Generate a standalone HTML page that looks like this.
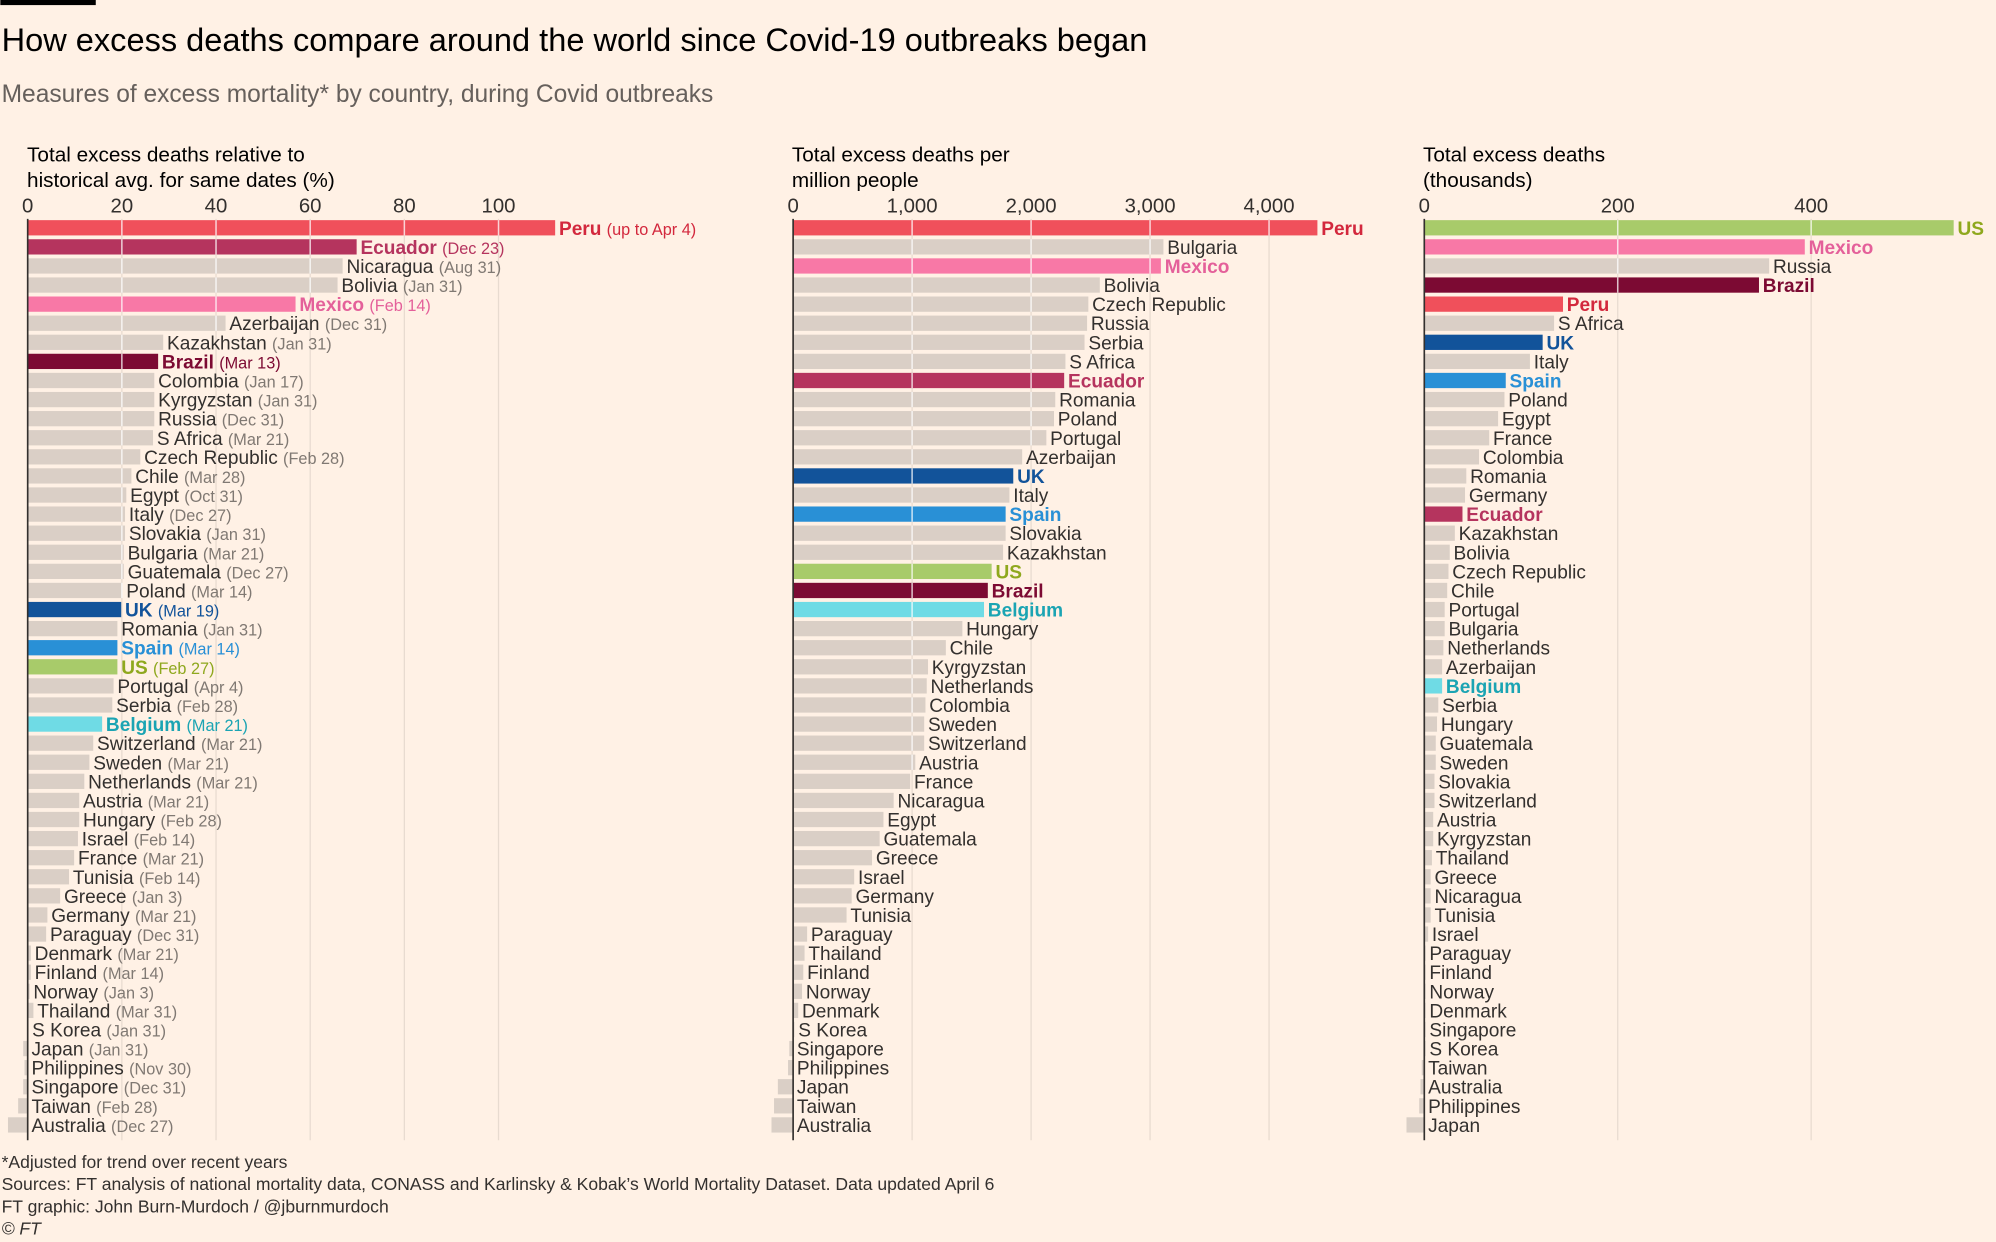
<!DOCTYPE html>
<html><head><meta charset="utf-8">
<style>
html,body{margin:0;padding:0;background:#fff1e5;}
svg{display:block;}
text{font-family:"Liberation Sans",sans-serif;}
</style></head>
<body>
<svg id="c" width="1996" height="1242" viewBox="0 0 1568 976" xmlns="http://www.w3.org/2000/svg">
<rect width="1568" height="976" fill="#fff1e5"/>
<rect x="0" y="0" width="75" height="4" fill="#000"/>
<text x="1" y="40" font-size="25.6" fill="#000">How excess deaths compare around the world since Covid-19 outbreaks began</text>
<text x="1" y="80" font-size="19.3" fill="#66605c">Measures of excess mortality* by country, during Covid outbreaks</text>
<g font-size="16.3" fill="#000">
<text x="21" y="127">Total excess deaths relative to</text>
<text x="21" y="147">historical avg. for same dates (%)</text>
<text x="622" y="127">Total excess deaths per</text>
<text x="622" y="147">million people</text>
<text x="1118" y="127">Total excess deaths</text>
<text x="1118" y="147">(thousands)</text>
</g>
<g id="g"></g>
<g font-size="13.8" fill="#33302e">
<text x="1" y="918">*Adjusted for trend over recent years</text>
<text x="1" y="935">Sources: FT analysis of national mortality data, CONASS and Karlinsky &amp; Kobak’s World Mortality Dataset. Data updated April 6</text>
<text x="1" y="953">FT graphic: John Burn-Murdoch / @jburnmurdoch</text>
<text x="1" y="970" font-style="italic">© FT</text>
</g>
</svg>
<script>
var C={Peru:['#f0505b','#d3283d'],Ecuador:['#b5345e','#b5345e'],Mexico:['#f878a6','#e4609a'],Brazil:['#7c0a33','#7c0a33'],UK:['#12539a','#12539a'],Spain:['#2990d6','#2990d6'],US:['#a8cb6a','#8fa81e'],Belgium:['#6fdbe5','#1ba4b3']};
var p1=[["Peru",436,"up to Apr 4"],["Ecuador",280,"Dec 23"],["Nicaragua",269,"Aug 31"],["Bolivia",265,"Jan 31"],["Mexico",232,"Feb 14"],["Azerbaijan",177,"Dec 31"],["Kazakhstan",128,"Jan 31"],["Brazil",124,"Mar 13"],["Colombia",121,"Jan 17"],["Kyrgyzstan",121,"Jan 31"],["Russia",121,"Dec 31"],["S Africa",120,"Mar 21"],["Czech Republic",110,"Feb 28"],["Chile",103,"Mar 28"],["Egypt",99,"Oct 31"],["Italy",98,"Dec 27"],["Slovakia",98,"Jan 31"],["Bulgaria",97,"Mar 21"],["Guatemala",97,"Dec 27"],["Poland",96,"Mar 14"],["UK",95,"Mar 19"],["Romania",92,"Jan 31"],["Spain",92,"Mar 14"],["US",92,"Feb 27"],["Portugal",89,"Apr 4"],["Serbia",88,"Feb 28"],["Belgium",80,"Mar 21"],["Switzerland",73,"Mar 21"],["Sweden",70,"Mar 21"],["Netherlands",66,"Mar 21"],["Austria",62,"Mar 21"],["Hungary",62,"Feb 28"],["Israel",61,"Feb 14"],["France",58,"Mar 21"],["Tunisia",54,"Feb 14"],["Greece",47,"Jan 3"],["Germany",37,"Mar 21"],["Paraguay",36,"Dec 31"],["Denmark",24,"Mar 21"],["Finland",24,"Mar 14"],["Norway",23,"Jan 3"],["Thailand",26,"Mar 31"],["S Korea",22,"Jan 31"],["Japan",18,"Jan 31"],["Philippines",19,"Nov 30"],["Singapore",18,"Dec 31"],["Taiwan",14,"Feb 28"],["Australia",6,"Dec 27"]];
var p2=[["Peru",1035],["Bulgaria",914],["Mexico",912],["Bolivia",864],["Czech Republic",855],["Russia",854],["Serbia",852],["S Africa",837],["Ecuador",836],["Romania",829],["Poland",828],["Portugal",822],["Azerbaijan",803],["UK",796],["Italy",793],["Spain",790],["Slovakia",790],["Kazakhstan",788],["US",779],["Brazil",776],["Belgium",773],["Hungary",756],["Chile",743],["Kyrgyzstan",729],["Netherlands",728],["Colombia",727],["Sweden",726],["Switzerland",726],["Austria",719],["France",715],["Nicaragua",702],["Egypt",694],["Guatemala",691],["Greece",685],["Israel",671],["Germany",669],["Tunisia",665],["Paraguay",634],["Thailand",632],["Finland",631],["Norway",630],["Denmark",627],["S Korea",624],["Singapore",620],["Philippines",619],["Japan",611],["Taiwan",608],["Australia",606]];
var p3=[["US",1535],["Mexico",1418],["Russia",1390],["Brazil",1382],["Peru",1228],["S Africa",1221],["UK",1212],["Italy",1202],["Spain",1183],["Poland",1182],["Egypt",1177],["France",1170],["Colombia",1162],["Romania",1152],["Germany",1151],["Ecuador",1149],["Kazakhstan",1143],["Bolivia",1139],["Czech Republic",1138],["Chile",1137],["Portugal",1135],["Bulgaria",1135],["Netherlands",1134],["Azerbaijan",1133],["Belgium",1133],["Serbia",1130],["Hungary",1129],["Guatemala",1128],["Sweden",1128],["Slovakia",1127],["Switzerland",1127],["Austria",1126],["Kyrgyzstan",1126],["Thailand",1125],["Greece",1124],["Nicaragua",1124],["Tunisia",1124],["Israel",1122],["Paraguay",1120],["Finland",1120],["Norway",1120],["Denmark",1120],["Singapore",1120],["S Korea",1120],["Taiwan",1117],["Australia",1116],["Philippines",1115],["Japan",1105]];
var s='';
function panel(z,ticks,data){
  var t=ticks;
  for(var i=0;i<t.length;i++){s+='<line x1="'+t[i][0]+'" x2="'+t[i][0]+'" y1="172" y2="896" stroke="#e8dbd0" stroke-width="1"/>';
    s+='<text x="'+t[i][0]+'" y="167" font-size="16" fill="#33302e" text-anchor="middle">'+t[i][1]+'</text>';}
  for(var j=0;j<data.length;j++){
    var d=data[j],cy=179+j*15.0,x=d[1],c=C[d[0]];
    var x0=Math.min(z,x),w=Math.abs(x-z);
    s+='<rect x="'+x0+'" y="'+(cy-6)+'" width="'+w+'" height="12" fill="'+(c?c[0]:'#dacfc6')+'"/>';
    for(var i=1;i<t.length;i++){if(t[i][0]<x0+w)s+='<line x1="'+t[i][0]+'" x2="'+t[i][0]+'" y1="'+(cy-6)+'" y2="'+(cy+6)+'" stroke="#fff" stroke-opacity="0.75" stroke-width="1.2"/>';}
    var lx=Math.max(x,z)+3;
    s+='<text x="'+lx+'" y="'+(cy+5.5)+'" font-size="15" fill="'+(c?c[1]:'#33302e')+'"'+(c?' font-weight="bold"':'')+'>'+d[0];
    if(d[2])s+=' <tspan font-size="12.8" font-weight="normal" fill="'+(c?c[1]:'#807973')+'">('+d[2]+')</tspan>';
    s+='</text>';
  }
  s+='<line x1="'+z+'" x2="'+z+'" y1="172" y2="896" stroke="#33302e" stroke-width="1.3"/>';
}
panel(21.5,[[21.5,'0'],[95.5,'20'],[169.5,'40'],[243.5,'60'],[317.5,'80'],[391.5,'100']],p1);
panel(623,[[623,'0'],[716.5,'1,000'],[810,'2,000'],[903.5,'3,000'],[997,'4,000']],p2);
panel(1119,[[1119,'0'],[1271,'200'],[1423,'400']],p3);
document.getElementById('g').innerHTML=s;
</script>
</body></html>
